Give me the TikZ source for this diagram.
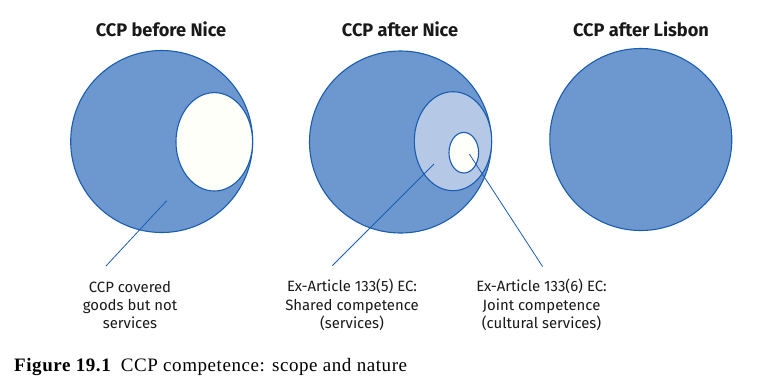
\documentclass[tikz,border=0pt]{standalone}
\usepackage{fontspec}
\setmainfont{Fira Sans}
\newfontfamily\capfont[LetterSpace=3]{Liberation Serif}
\usetikzlibrary{shapes.geometric}
\definecolor{bluefill}{HTML}{6C98CF}
\definecolor{bluedraw}{HTML}{1A5DB0}
\definecolor{lightfill}{HTML}{B5C8E6}
\definecolor{whitefill}{HTML}{FFFFFA}
\tikzset{
  bigc/.style={circle, draw=bluedraw, fill=bluefill, line width=1.1pt, inner sep=0pt, minimum size=182pt},
  ell/.style={ellipse, draw=bluedraw, line width=1.1pt, inner sep=0pt},
  title/.style={font=\fontsize{18.2}{21}\selectfont\bfseries, text=black!90},
  lbl/.style={font=\fontsize{14.9}{18.3}\selectfont, align=center, text=black!90},
  conn/.style={draw=bluedraw, line width=0.8pt}
}
\begin{document}
\begin{tikzpicture}[x=1pt,y=-1pt]
\useasboundingbox (0,0) rectangle (782,384);
% titles
\node[title] (t1) at (161,29) {CCP before Nice};
\node[title] (t2) at (400,29) {CCP after Nice};
\node[title] (t3) at (641,29) {CCP after Lisbon};
% circle 1
\node[bigc] (c1) at (161.7,141.5) {};
\node[ell, fill=whitefill, minimum width=76.6pt, minimum height=98.4pt] (w1) at (214.3,141.8) {};
% circle 2
\node[bigc] (c2) at (400.5,142) {};
\node[ell, fill=lightfill, minimum width=77.4pt, minimum height=99pt] (m2) at (453,141.2) {};
\node[ell, fill=whitefill, minimum width=29.6pt, minimum height=40.6pt] (s2) at (463.8,152.7) {};
% circle 3
\node[bigc] (c3) at (640.8,139.5) {};
% labels
\node[lbl] (l1) at (130,305) {CCP covered\\goods but not\\services};
\node[lbl] (l2) at (352,305) {Ex-Article 133(5) EC:\\Shared competence\\(services)};
\node[lbl] (l3) at (541.5,305) {Ex-Article 133(6) EC:\\Joint competence\\(cultural services)};
% connectors
\coordinate (p1) at (166.7,200.7);
\coordinate (q1) at (106,266);
\coordinate (p2) at (434,164);
\coordinate (q2) at (332.3,265.7);
\coordinate (p3) at (469.3,154);
\coordinate (q3) at (542.7,266.7);
\draw[conn] (p1) -- (q1);
\draw[conn] (p2) -- (q2);
\draw[conn] (p3) -- (q3);
% caption
\node[anchor=base west, font=\capfont\fontsize{19}{22}\selectfont, inner sep=0pt] (cap) at (14,371) {\textbf{Figure 19.1}\hspace{0.5em}CCP competence: scope and nature};
\end{tikzpicture}
\end{document}
